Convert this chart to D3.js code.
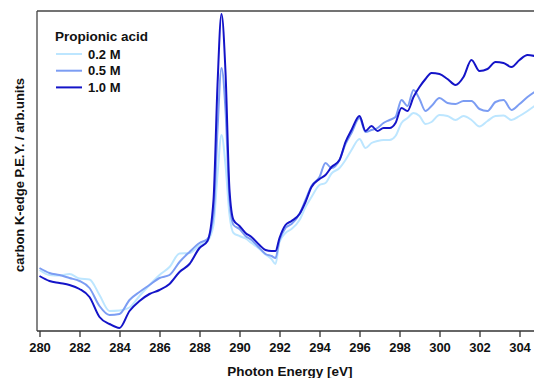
<!DOCTYPE html>
<html>
<head>
<meta charset="utf-8">
<script src="https://cdn.jsdelivr.net/npm/d3@7"></script>
<style>
    body { margin: 0; background: #fff; }
    svg { display: block; font-family: 'Liberation Sans', Arial, sans-serif; }
    .tick text { font-size: 13px; font-weight: bold; fill: #111; }
</style>
</head>
<body>
<div id="chart"></div>
<script>
// photon energy grid (eV)
const energy = [280, 280.5, 281, 281.5, 282, 282.5, 283, 283.5, 284, 284.5, 285, 285.5, 286, 286.5, 287, 287.5,
    288, 288.4, 288.7, 288.9, 289.1, 289.3, 289.5, 289.7, 290, 290.3, 290.6, 291, 291.3, 291.6, 291.8,
    292, 292.3, 292.6, 293, 293.3, 293.6, 294, 294.3, 294.6, 295, 295.3, 295.6, 296, 296.3, 296.6, 296.9,
    297.2, 297.5, 297.8, 298.1, 298.4, 298.7, 299, 299.3, 299.6, 300, 300.4, 300.8, 301.2, 301.6, 302,
    302.4, 302.8, 303.2, 303.6, 304, 304.4, 304.75];

// P.E.Y. intensity, arb. units
const pey02 = [6.1, 5.6, 5.55, 5.7, 5.25, 5.15, 3.6, 2.0, 2.05, 2.35, 3.5, 4.6, 5.6, 6.4, 7.75, 7.8,
    8.55, 9.0, 10.6, 15.6, 19.6, 16.6, 11.6, 9.8, 9.5, 9.25, 8.8, 8.2, 7.65, 7.2, 6.7,
    8.9, 9.8, 10.2, 11.1, 12.4, 13.4, 14.6, 14.8, 15.75, 16.3, 17.1, 18.1, 19.2, 18.3, 18.8, 19.0,
    19.1, 19.1, 19.5, 20.8, 21.3, 21.8, 21.5, 20.7, 20.9, 21.6, 21.5, 21.1, 21.5, 21.1, 20.45,
    21.0, 21.5, 21.55, 21.1, 21.5, 22.0, 22.5];

const pey05 = [6.3, 5.8, 5.6, 5.3, 5.0, 4.3, 2.5, 1.6, 1.7, 3.1, 3.9, 4.6, 5.3, 5.6, 6.9, 7.9,
    8.8, 9.2, 11.6, 20.1, 26.3, 22.1, 13.1, 10.6, 10.2, 9.5, 9.1, 8.3, 7.7, 7.5, 7.3,
    9.1, 10.3, 10.7, 11.7, 13.1, 14.5, 15.4, 16.8, 16.3, 17.1, 18.7, 19.8, 21.3, 19.9, 20.1, 20.3,
    20.8, 21.1, 21.4, 23.1, 22.5, 24.1, 23.2, 22.0, 22.5, 23.3, 22.8, 22.7, 23.0, 23.0, 22.2,
    22.0, 22.9, 23.1, 22.1, 22.7, 23.4, 23.9];

const pey10 = [5.5, 5.0, 4.8, 4.6, 4.2, 3.4, 1.4, 0.7, 0.3, 2.0, 3.0, 3.7, 4.1, 4.7, 5.9, 6.7,
    8.3, 9.0, 13.1, 24.6, 31.7, 25.9, 14.1, 11.1, 10.5, 9.8, 9.4, 8.6, 8.1, 8.0, 8.0,
    9.3, 10.6, 11.0, 11.7, 12.9, 14.4, 15.2, 15.6, 16.4, 17.1, 18.9, 20.1, 21.5, 20.0, 20.5, 20.0,
    20.3, 20.3, 20.8, 22.3, 22.0, 23.4, 24.4, 25.2, 25.8, 25.7, 25.2, 24.6, 25.4, 27.1, 26.0,
    26.2, 26.9, 26.8, 26.4, 27.1, 27.6, 27.5];

const seriesNames = ['0.2 M', '0.5 M', '1.0 M'];
const xTicks = [280, 282, 284, 286, 288, 290, 292, 294, 296, 298, 300, 302, 304];

const palette = {
    '0.2 M': '#bde6ff',
    '0.5 M': '#7c9df3',
    '1.0 M': '#1414c8'
};

const width = 534;
const height = 378;
const plot = {left: 37, top: 11, bottom: 331};

const svg = d3.select('#chart')
    .append('svg')
    .attr('width', width)
    .attr('height', height);

const x = d3.scaleLinear()
    .domain([280, 305])
    .range([39.5, 539.5]);
const y = d3.scaleLinear()
    .domain([0, 32])
    .range([plot.bottom, plot.top]);

svg.append('clipPath')
    .attr('id', 'clip')
    .append('rect')
        .attr('x', plot.left)
        .attr('y', plot.top)
        .attr('width', width - plot.left)
        .attr('height', plot.bottom - plot.top);

const series = [pey02, pey05, pey10].map((vals, i) => ({
    name: seriesNames[i],
    values: vals.map((v, j) => ({e: energy[j], v: v}))
}));

const line = d3.line()
    .x(d => x(d.e))
    .y(d => y(d.v))
    .curve(d3.curveMonotoneX);

svg.append('g')
    .attr('clip-path', 'url(#clip)')
    .selectAll('.curve')
    .data(series)
    .enter()
    .append('path')
        .classed('curve', true)
        .attr('d', d => line(d.values))
        .attr('fill', 'none')
        .attr('stroke', d => palette[d.name])
        .attr('stroke-width', 2)
        .attr('stroke-linejoin', 'round');

// frame: top and left edges
svg.append('line')
    .attr('x1', plot.left).attr('x2', width)
    .attr('y1', plot.top).attr('y2', plot.top)
    .attr('stroke', '#444').attr('stroke-width', 1.3);
svg.append('line')
    .attr('x1', plot.left).attr('x2', plot.left)
    .attr('y1', plot.top).attr('y2', plot.bottom)
    .attr('stroke', '#444').attr('stroke-width', 1.3);

const xAxis = svg.append('g')
    .attr('transform', 'translate(0,' + plot.bottom + ')')
    .call(d3.axisBottom(x).tickValues(xTicks).tickSize(6).tickPadding(6).tickSizeOuter(0));
xAxis.select('.domain')
    .attr('d', 'M' + plot.left + ',0H' + width)
    .attr('stroke', '#333')
    .attr('stroke-width', 1.3);
xAxis.selectAll('.tick line').attr('stroke', '#333').attr('stroke-width', 1.3);

svg.append('text')
    .attr('x', 290)
    .attr('y', 376)
    .attr('text-anchor', 'middle')
    .style('font-size', '13.5px')
    .style('font-weight', 'bold')
    .style('fill', '#111')
    .text('Photon Energy [eV]');

svg.append('text')
    .attr('transform', 'translate(24,175) rotate(-90)')
    .attr('text-anchor', 'middle')
    .style('font-size', '13px')
    .style('font-weight', 'bold')
    .style('fill', '#111')
    .text('carbon K-edge P.E.Y. / arb.units');

// legend
const legend = svg.append('g').attr('transform', 'translate(55,0)');
legend.append('text')
    .attr('x', 0)
    .attr('y', 41)
    .style('font-size', '13.5px')
    .style('font-weight', 'bold')
    .style('fill', '#111')
    .text('Propionic acid');

const rows = legend.selectAll('.row')
    .data(seriesNames)
    .enter()
    .append('g')
        .classed('row', true)
        .attr('transform', (d, i) => 'translate(0,' + (54 + i * 16.7) + ')');
rows.append('line')
    .attr('x1', 1).attr('x2', 27)
    .attr('stroke', d => palette[d])
    .attr('stroke-width', 2);
rows.append('text')
    .attr('x', 33)
    .attr('y', 4.5)
    .style('font-size', '13px')
    .style('font-weight', 'bold')
    .style('fill', '#111')
    .text(d => d);
</script>
</body>
</html>
